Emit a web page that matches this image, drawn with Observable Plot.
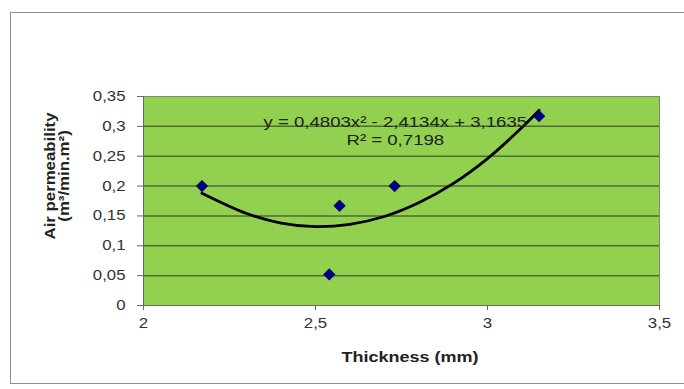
<!DOCTYPE html>
<html>
<head>
<meta charset="utf-8">
<script src="https://cdn.jsdelivr.net/npm/d3@7"></script>
<script src="https://cdn.jsdelivr.net/npm/@observablehq/plot@0.6"></script>
<style>
  html, body { margin: 0; padding: 0; background: #fff; }
  #wrap { position: relative; width: 684px; height: 389px; overflow: hidden; font-family: "Liberation Sans", Arial, sans-serif; }
  #frame { position: absolute; left: 10px; top: 12px; width: 700px; height: 372px; border: 1px solid #8f8f8f; box-sizing: border-box; }
  #chart { position: absolute; left: 0; top: 0; }
</style>
</head>
<body>
<div id="wrap"><div id="frame"></div><div id="chart"></div></div>
<script>
// Measured data points (thickness mm, air permeability m3/min.m2)
const thickness = [2.17, 2.54, 2.57, 2.73, 3.15];
const permeability = [0.2, 0.052, 0.167, 0.2, 0.317];

// Trendline points
const trendX = [2.17, 2.3, 2.4, 2.5, 2.6, 2.7, 2.8, 2.9, 3.0, 3.1, 3.15];
const trendY = [0.188, 0.154, 0.138, 0.132, 0.136, 0.149, 0.172, 0.204, 0.246, 0.298, 0.327];

const xTicks = [2, 2.5, 3, 3.5];
const yTicks = [0, 0.05, 0.1, 0.15, 0.2, 0.25, 0.3, 0.35];
const equationLines = ["y = 0,4803x² - 2,4134x + 3,1635", "R² = 0,7198"];
const equationY = [0.3065, 0.2763];
const xLabel = "Thickness (mm)";
const yLabelLines = ["Air permeability", "(m³/min.m²)"];

const fmt = v => String(+v.toFixed(2)).replace(".", ",");

const points = thickness.map((x, i) => ({x, y: permeability[i]}));
const trend = trendX.map((x, i) => ({x, y: trendY[i]}));
const eq = equationLines.map((t, i) => ({t, y: equationY[i]}));

const plot = Plot.plot({
  width: 684,
  height: 389,
  marginLeft: 143,
  marginRight: 25,
  marginTop: 96,
  marginBottom: 84,
  style: {fontFamily: "'Liberation Sans', Arial, sans-serif", fontSize: "14px", color: "#333", background: "transparent", overflow: "visible"},
  x: {domain: [2, 3.5], ticks: xTicks, tickFormat: fmt, label: null},
  y: {domain: [0, 0.35], ticks: yTicks, tickFormat: fmt, label: null},
  marks: [
    Plot.frame({fill: "#92d050", stroke: "none"}),
    Plot.ruleY(yTicks.slice(1, -1), {stroke: "#4e6b36", strokeWidth: 1.5}),
    Plot.frame({stroke: "#7d8a75", strokeWidth: 1}),
    Plot.axisX({ticks: xTicks, tickFormat: fmt, tickSize: 5, tickPadding: 8, fontSize: 14, stroke: "#666", fill: "#333"}),
    Plot.axisY({ticks: yTicks, tickFormat: fmt, tickSize: 6, tickPadding: 12, fontSize: 14, stroke: "#666", fill: "#333"}),
    Plot.ruleX([2], {stroke: "#666"}),
    Plot.ruleY([0], {stroke: "#666"}),
    Plot.line(trend, {x: "x", y: "y", curve: "catmull-rom", stroke: "#000", strokeWidth: 2.8}),
    Plot.dot(points, {x: "x", y: "y", symbol: "diamond2", r: 4.6, fill: "#00007a", stroke: "#00007a"}),
    Plot.text(eq, {x: 2.732, y: "y", text: "t", fontSize: 15.5, fill: "#222", textAnchor: "middle"})
  ]
});
document.getElementById("chart").appendChild(plot);

// axis titles (text)
const svg = d3.select(plot);
svg.append("text").attr("class", "title").attr("x", 410).attr("y", 357).attr("dy", "0.35em").attr("text-anchor", "middle")
  .attr("font-size", 15).attr("font-weight", "bold").attr("fill", "#222").text(xLabel);
yLabelLines.forEach((t, i) => {
  svg.append("text").attr("class", "title").attr("transform", `translate(${55 + i * 14},176) rotate(-90)`).attr("text-anchor", "middle")
    .attr("font-size", 14).attr("font-weight", "bold").attr("fill", "#222").text(t);
});

// the reference is horizontally stretched: widen glyphs of all texts
svg.selectAll("text").each(function () {
  const n = this.getComputedTextLength();
  if (n > 0) {
    d3.select(this).attr("textLength", n * 1.2).attr("lengthAdjust", "spacingAndGlyphs");
  }
});
</script>
</body>
</html>
